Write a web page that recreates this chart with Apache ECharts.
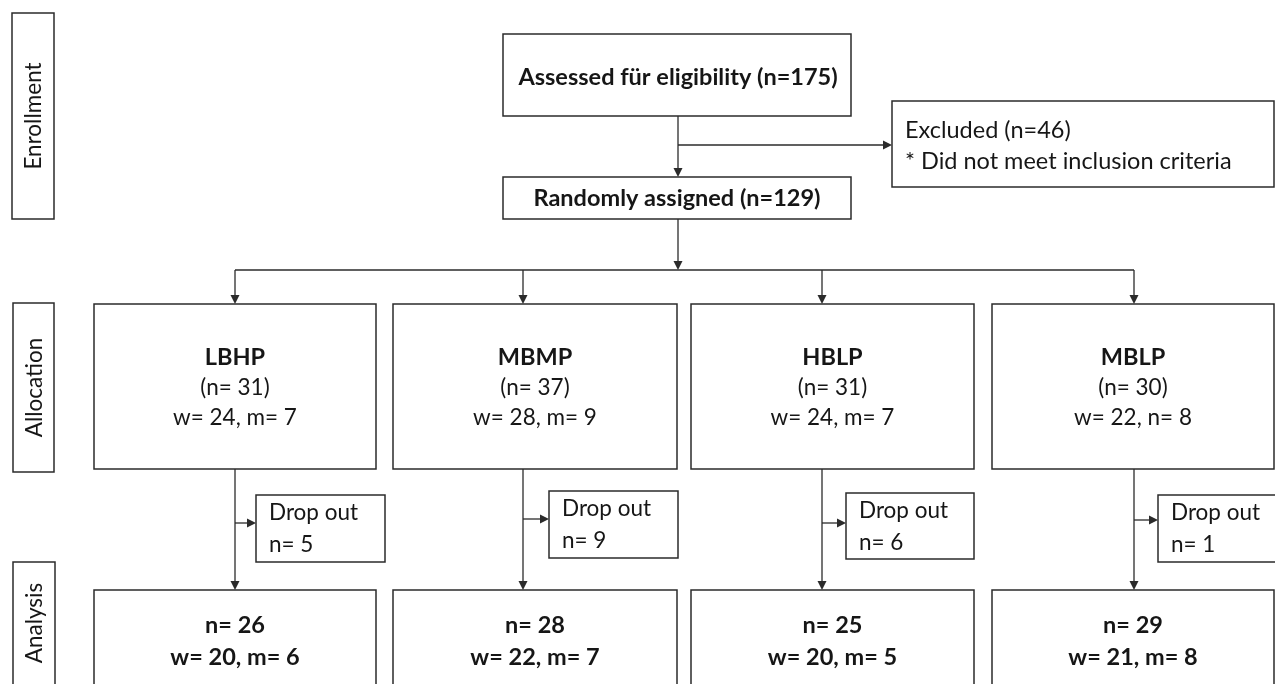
<!DOCTYPE html>
<html><head><meta charset="utf-8">
<script src="https://cdn.jsdelivr.net/npm/echarts@6/dist/echarts.min.js"></script>
<style>html,body{margin:0;padding:0;background:#fff}#c{width:1275px;height:684px}</style>
</head><body><div id="c"></div>
<script>
// ---------- data ----------
const stageLabels = ['Enrollment', 'Allocation', 'Analysis'];
const assessedN = 175;
const excludedN = 46;
const excludedReason = '* Did not meet inclusion criteria';
const randomizedN = 129;
const groupNames = ['LBHP', 'MBMP', 'HBLP', 'MBLP'];
const allocN = [31, 37, 31, 30];
const allocW = [24, 28, 24, 22];
const allocM = [7, 9, 7, 8];
const allocMLetter = ['m', 'm', 'm', 'n'];
const dropoutN = [5, 9, 6, 1];
const analysisN = [26, 28, 25, 29];
const analysisW = [20, 22, 20, 21];
const analysisM = [6, 7, 5, 8];

// ---------- layout (units of a hidden 1275 x 684 cartesian) ----------
const L = {
  stageBoxes: [[12, 13, 54, 219], [13, 303, 54, 472], [13, 562, 55, 720]],
  topBox: [503, 34, 851, 116],
  randBox: [503, 177, 851, 219],
  exclBox: [892, 101, 1274, 187],
  mainX: 678, exclY: 145, branchY: 270,
  colBoxes: [[94, 376], [393, 677], [691, 974], [992, 1274]],
  arrowX: [235, 523, 822, 1134],
  allocY: [304, 469],
  analysisY: [590, 720],
  dropBoxes: [[256, 495, 385, 562], [549, 491, 678, 558], [846, 493, 974, 559], [1158, 495, 1290, 562]],
  dropArrowY: [523, 519, 523, 520]
};
const FONT = 'Lato, "Open Sans", sans-serif';
const FS = 23.5;
const FS_SMALL = 22.5;
const INK = '#161616';
const LINE = '#2b2b2b';

// ---------- build element lists ----------
const boxes = [];
stageLabels.forEach((s, i) => {
  const r = L.stageBoxes[i];
  const yEnd = Math.min(r[3], 684);
  boxes.push({ r, lines: [{ t: s, x: (r[0] + r[2]) / 2 + 1, y: (r[1] + yEnd) / 2, rot: true, fs: FS_SMALL }] });
});
boxes.push({ r: L.topBox, lines: [{ t: 'Assessed für eligibility (n=' + assessedN + ')', bold: true, x: 678, y: 77 }] });
boxes.push({ r: L.randBox, lines: [{ t: 'Randomly assigned (n=' + randomizedN + ')', bold: true, x: 677, y: 198 }] });
boxes.push({ r: L.exclBox, lines: [
  { t: 'Excluded (n=' + excludedN + ')', x: 905, y: 130, left: true },
  { t: excludedReason, x: 905, y: 161, left: true }] });
groupNames.forEach((g, i) => {
  const c = L.colBoxes[i];
  const cx = (c[0] + c[1]) / 2;
  boxes.push({ r: [c[0], L.allocY[0], c[1], L.allocY[1]], lines: [
    { t: g, bold: true, x: cx, y: 357 },
    { t: '(n= ' + allocN[i] + ')', x: cx, y: 388, fs: FS_SMALL },
    { t: 'w= ' + allocW[i] + ', ' + allocMLetter[i] + '= ' + allocM[i], x: cx, y: 418, fs: FS_SMALL }] });
  const d = L.dropBoxes[i];
  boxes.push({ r: d, lines: [
    { t: 'Drop out', x: d[0] + 13, y: d[1] + 18, left: true, fs: FS_SMALL },
    { t: 'n= ' + dropoutN[i], x: d[0] + 13, y: d[1] + 50, left: true, fs: FS_SMALL }] });
  boxes.push({ r: [c[0], L.analysisY[0], c[1], L.analysisY[1]], lines: [
    { t: 'n= ' + analysisN[i], bold: true, x: cx, y: 625 },
    { t: 'w= ' + analysisW[i] + ', m= ' + analysisM[i], bold: true, x: cx, y: 657 }] });
});

const links = [];
links.push({ p: [[L.mainX, L.topBox[3]], [L.mainX, L.randBox[1]]], arrow: true });
links.push({ p: [[L.mainX, L.exclY], [L.exclBox[0], L.exclY]], arrow: true });
links.push({ p: [[L.mainX, L.randBox[3]], [L.mainX, L.branchY]], arrow: true });
links.push({ p: [[L.arrowX[0], L.branchY], [L.arrowX[3], L.branchY]], arrow: false });
L.arrowX.forEach((x, i) => {
  links.push({ p: [[x, L.branchY], [x, L.allocY[0]]], arrow: true });
  links.push({ p: [[x, L.allocY[1]], [x, L.analysisY[0]]], arrow: true });
  links.push({ p: [[x, L.dropArrowY[i]], [L.dropBoxes[i][0], L.dropArrowY[i]]], arrow: true });
});

// ---------- render ----------
function renderBox(params, api) {
  const b = boxes[params.dataIndex];
  const p1 = api.coord([b.r[0], b.r[1]]);
  const p2 = api.coord([b.r[2], b.r[3]]);
  const children = [{
    type: 'rect',
    shape: { x: p1[0], y: p1[1], width: p2[0] - p1[0], height: p2[1] - p1[1] },
    style: { fill: '#fff', stroke: LINE, lineWidth: 1.5 }
  }];
  b.lines.forEach(l => {
    const q = api.coord([l.x, l.y]);
    children.push({
      type: 'text', x: q[0], y: q[1], rotation: l.rot ? Math.PI / 2 : 0,
      style: {
        text: l.t, fill: INK,
        font: (l.bold ? 'bold ' : '') + (l.fs || FS) + 'px ' + FONT,
        align: l.left ? 'left' : 'center', verticalAlign: 'middle',
        textAlign: l.left ? 'left' : 'center', textVerticalAlign: 'middle'
      }
    });
  });
  return { type: 'group', children };
}
function renderLink(params, api) {
  const k = links[params.dataIndex];
  const a = api.coord(k.p[0]);
  const b = api.coord(k.p[1]);
  const children = [];
  const dx = b[0] - a[0], dy = b[1] - a[1];
  const len = Math.sqrt(dx * dx + dy * dy) || 1;
  const ux = dx / len, uy = dy / len;
  const head = 9, half = 4.5;
  const end = k.arrow ? [b[0] - ux * head, b[1] - uy * head] : b;
  children.push({ type: 'line', shape: { x1: a[0], y1: a[1], x2: end[0], y2: end[1] },
    style: { stroke: LINE, lineWidth: 1.3 } });
  if (k.arrow) {
    children.push({ type: 'polygon', shape: { points: [
      [b[0], b[1]],
      [end[0] - uy * half, end[1] + ux * half],
      [end[0] + uy * half, end[1] - ux * half]] },
      style: { fill: LINE } });
  }
  return { type: 'group', children };
}

const chart = echarts.init(document.getElementById('c'), null, { renderer: 'canvas' });
chart.setOption({
  animation: false,
  backgroundColor: '#fff',
  grid: { left: 0, right: 0, top: 0, bottom: 0 },
  xAxis: { type: 'value', min: 0, max: 1275, show: false },
  yAxis: { type: 'value', min: 0, max: 684, inverse: true, show: false },
  series: [
    { type: 'custom', renderItem: renderLink, data: links.map(k => k.p[0]), clip: false, silent: true, z: 1 },
    { type: 'custom', renderItem: renderBox, data: boxes.map(b => [b.r[0], b.r[1]]), clip: false, silent: true, z: 2 }
  ]
});
</script></body></html>
